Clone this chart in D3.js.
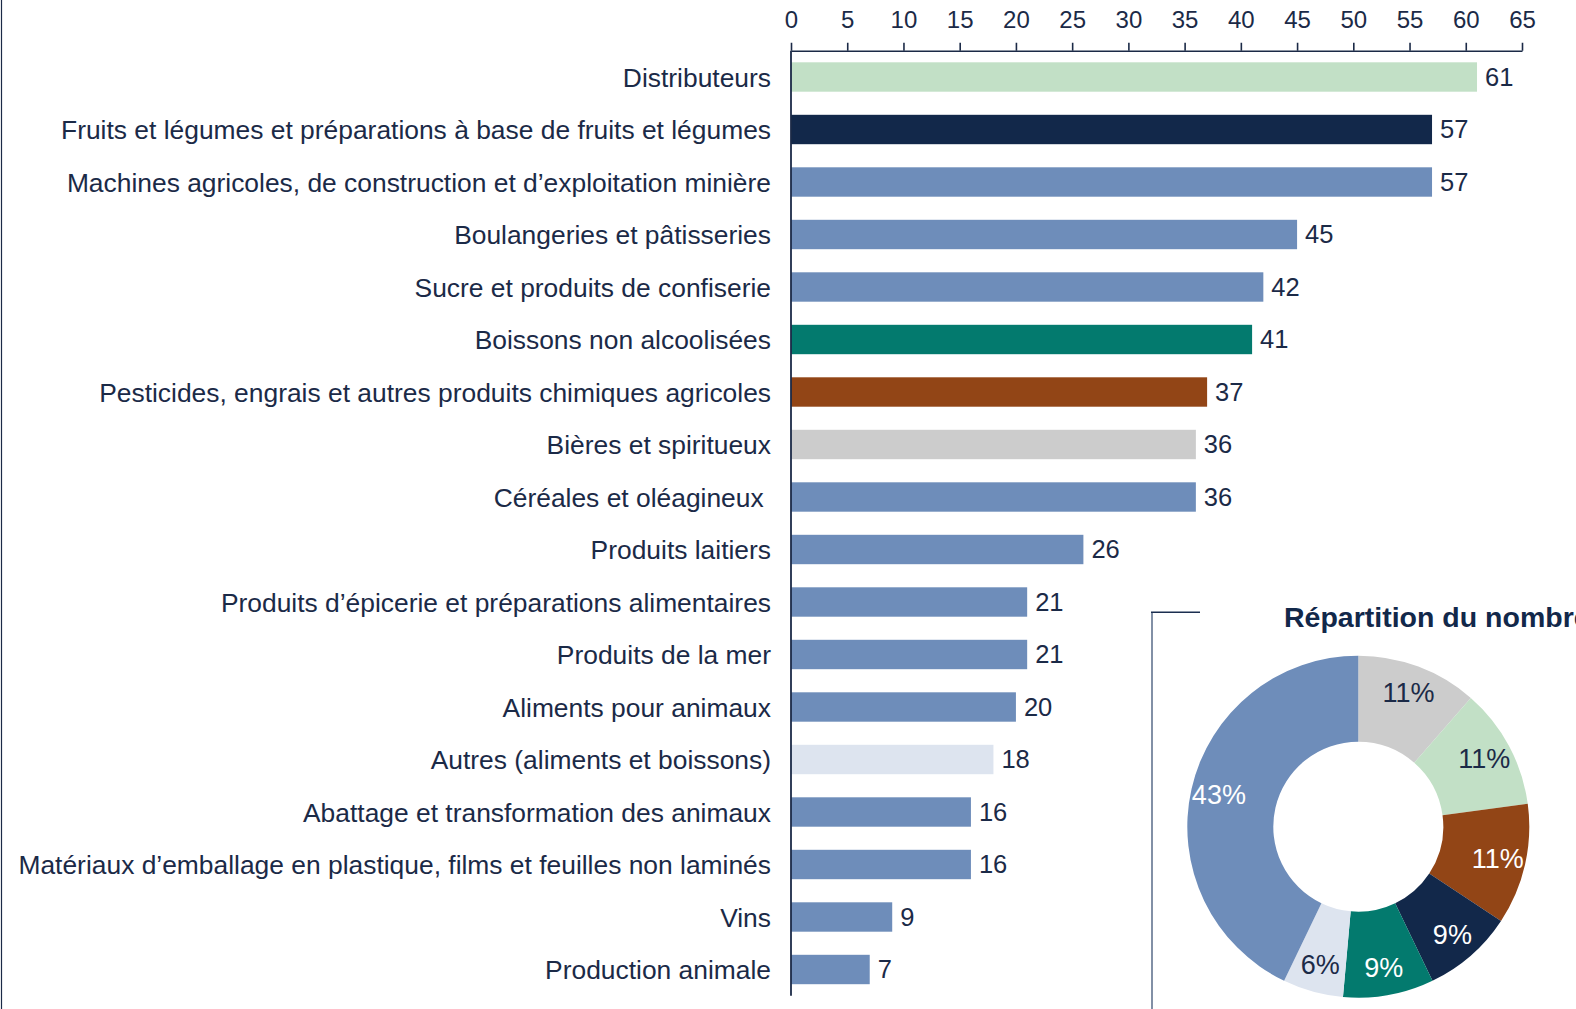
<!DOCTYPE html>
<html lang="fr">
<head>
<meta charset="utf-8">
<script src="https://cdn.jsdelivr.net/npm/d3@7"></script>
<style>
  html, body { margin: 0; padding: 0; background: #ffffff; }
  svg { display: block; font-family: "Liberation Sans", Arial, sans-serif; }
</style>
</head>
<body>
<svg id="chart" width="1576" height="1009"></svg>
<script>
// Secteurs et nombre de sociétés
const categories = [
  "Distributeurs",
  "Fruits et légumes et préparations à base de fruits et légumes",
  "Machines agricoles, de construction et d’exploitation minière",
  "Boulangeries et pâtisseries",
  "Sucre et produits de confiserie",
  "Boissons non alcoolisées",
  "Pesticides, engrais et autres produits chimiques agricoles",
  "Bières et spiritueux",
  "Céréales et oléagineux ",
  "Produits laitiers",
  "Produits d’épicerie et préparations alimentaires",
  "Produits de la mer",
  "Aliments pour animaux",
  "Autres (aliments et boissons)",
  "Abattage et transformation des animaux",
  "Matériaux d’emballage en plastique, films et feuilles non laminés",
  "Vins",
  "Production animale"
];
const values = [61, 57, 57, 45, 42, 41, 37, 36, 36, 26, 21, 21, 20, 18, 16, 16, 9, 7];
const barGroups = [
  "distrib", "fruits", "autre", "autre", "autre", "boissons", "pesticides",
  "bieres", "autre", "autre", "autre", "autre", "autre", "divers", "autre",
  "autre", "autre", "autre"
];
const xTicks = [0, 5, 10, 15, 20, 25, 30, 35, 40, 45, 50, 55, 60, 65];

// Répartition (anneau)
const donutGroups = ["bieres", "distrib", "pesticides", "fruits", "boissons", "divers", "autre"];
const donutCounts = [4, 4, 4, 3, 3, 2, 15];
const donutTitle = "Répartition du nombre d’entreprises par secteur";

const palette = {
  distrib: "#c2e0c6",
  fruits: "#12284a",
  autre: "#6e8dba",
  boissons: "#037a6e",
  pesticides: "#924516",
  bieres: "#cccccc",
  divers: "#dde4ef"
};
const labelInk = {
  distrib: "#1b2a47", fruits: "#ffffff", autre: "#ffffff", boissons: "#ffffff",
  pesticides: "#ffffff", bieres: "#1b2a47", divers: "#1b2a47"
};
const ink = "#1b2a47";

const svg = d3.select("#chart");

// ---- Barres horizontales ----
const x = d3.scaleLinear().domain([0, 65]).range([791, 1522]);
const y = d3.scaleBand()
  .domain(categories)
  .range([50.75, 995.75])
  .paddingInner(0.44)
  .paddingOuter(0.22);

const rows = categories.map((c, i) => ({ cat: c, v: values[i], g: barGroups[i] }));

svg.append("g")
  .selectAll("rect")
  .data(rows)
  .join("rect")
  .attr("x", x(0))
  .attr("y", d => y(d.cat))
  .attr("width", d => x(d.v) - x(0))
  .attr("height", y.bandwidth())
  .attr("fill", d => palette[d.g]);

// libellés des catégories
svg.append("g")
  .selectAll("text")
  .data(rows)
  .join("text")
  .attr("x", 771)
  .attr("y", d => y(d.cat) + y.bandwidth() / 2 + 9.5)
  .attr("text-anchor", "end")
  .attr("font-size", 26.4)
  .attr("fill", ink)
  .style("white-space", "pre")
  .text(d => d.cat);

// valeurs au bout des barres
svg.append("g")
  .selectAll("text")
  .data(rows)
  .join("text")
  .attr("x", d => x(d.v) + 8)
  .attr("y", d => y(d.cat) + y.bandwidth() / 2 + 8.5)
  .attr("font-size", 25.5)
  .attr("fill", ink)
  .text(d => d.v);

// axe du haut
const axis = svg.append("g")
  .attr("transform", "translate(0,50.75)")
  .call(d3.axisTop(x).tickValues(xTicks).tickSize(8).tickSizeOuter(0).tickPadding(15));
axis.select(".domain").attr("stroke", ink).attr("stroke-width", 1.6);
axis.selectAll(".tick line").attr("stroke", ink).attr("stroke-width", 1.6);
axis.selectAll(".tick text")
  .attr("fill", ink)
  .attr("font-size", 24)
  .attr("font-family", "Liberation Sans, Arial, sans-serif");

// axe vertical
svg.append("line")
  .attr("x1", x(0)).attr("x2", x(0))
  .attr("y1", 50.75).attr("y2", 995.75)
  .attr("stroke", ink).attr("stroke-width", 1.8);

// bordure gauche
svg.append("line")
  .attr("x1", 1.5).attr("x2", 1.5)
  .attr("y1", 0).attr("y2", 1009)
  .attr("stroke", ink).attr("stroke-width", 1.2);

// ---- Encart : anneau ----
svg.append("line")
  .attr("x1", 1152).attr("x2", 1152)
  .attr("y1", 612).attr("y2", 1009)
  .attr("stroke", "#8290a6").attr("stroke-width", 2);
svg.append("line")
  .attr("x1", 1151).attr("x2", 1200)
  .attr("y1", 612.3).attr("y2", 612.3)
  .attr("stroke", "#1b2e50").attr("stroke-width", 1.5);

svg.append("text")
  .attr("x", 1284)
  .attr("y", 626.5)
  .attr("font-size", 28.5)
  .attr("font-weight", "bold")
  .attr("fill", "#12284a")
  .text(donutTitle);

const cx = 1358.3, cy = 826.7;
const total = d3.sum(donutCounts);
const slices = d3.pie().sort(null).value(d => d.n)(
  donutGroups.map((g, i) => ({ g, n: donutCounts[i] }))
);
const arc = d3.arc().innerRadius(85).outerRadius(171);
const labelArc = d3.arc().innerRadius(143).outerRadius(143);
const pct = d3.format(".0f");

const donut = svg.append("g").attr("transform", `translate(${cx},${cy})`);
donut.selectAll("path")
  .data(slices)
  .join("path")
  .attr("d", arc)
  .attr("fill", d => palette[d.data.g]);

donut.selectAll("text")
  .data(slices)
  .join("text")
  .attr("transform", d => {
    const [lx, ly] = labelArc.centroid(d);
    return `translate(${lx},${ly + 9.5})`;
  })
  .attr("text-anchor", "middle")
  .attr("font-size", 27)
  .attr("fill", d => labelInk[d.data.g])
  .text(d => pct(d.data.n / total * 100) + "%");
</script>
</body>
</html>
